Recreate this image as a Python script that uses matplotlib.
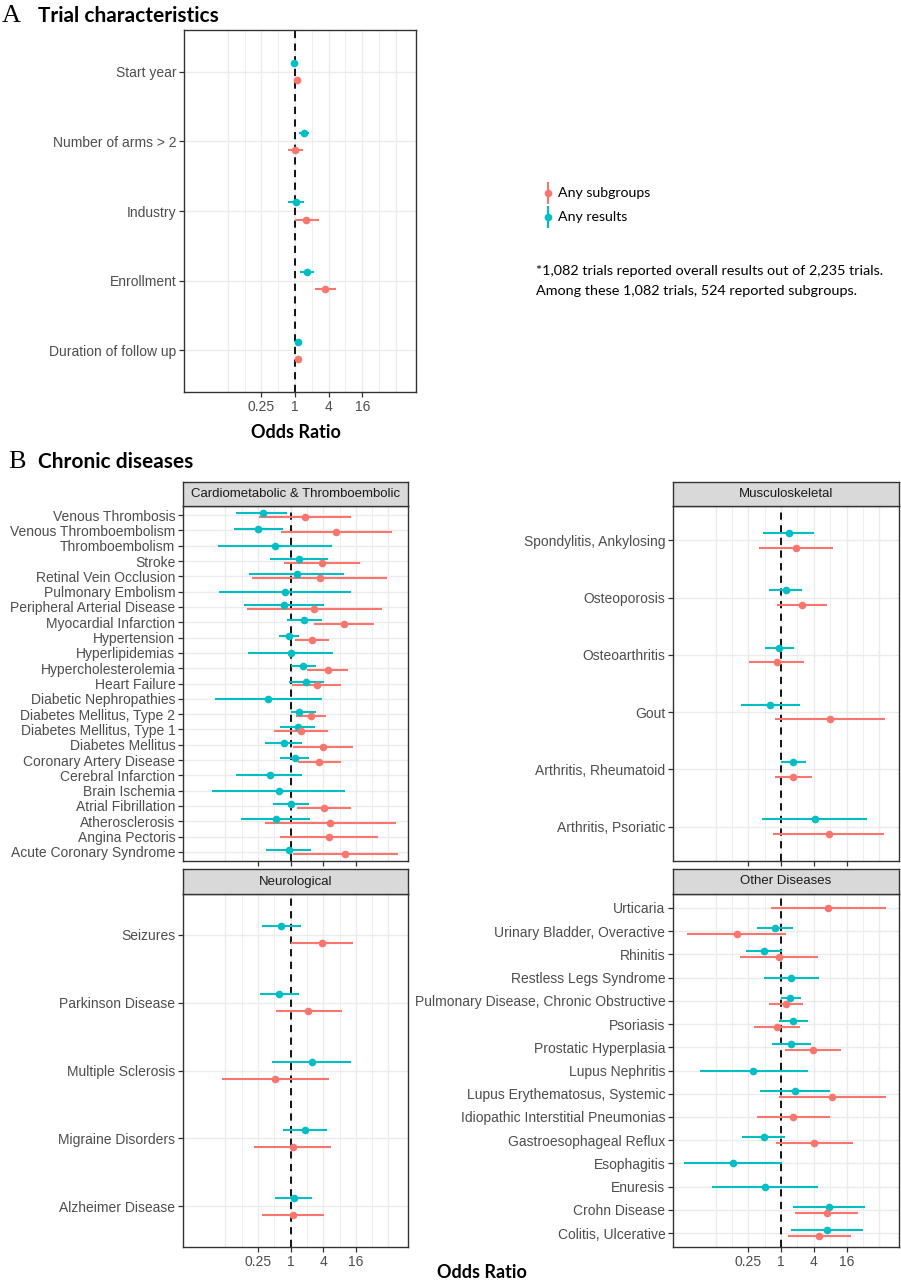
import numpy as np
import matplotlib.pyplot as plt

RED = "#F8766D"
TEAL = "#00BFC4"
NA = np.nan

# ---------------- A: trial characteristics (top to bottom) ----------------
trial_names = ["Start year", "Number of arms > 2", "Industry", "Enrollment",
               "Duration of follow up"]
trial_res = [0.97, 1.43, 1.03, 1.65, 1.12]
trial_res_lo = [0.95, 1.20, 0.75, 1.25, 1.08]
trial_res_hi = [1.00, 1.77, 1.45, 2.20, 1.16]
trial_sub = [1.10, 1.00, 1.58, 3.50, 1.15]
trial_sub_lo = [1.07, 0.75, 1.00, 2.27, 1.11]
trial_sub_hi = [1.13, 1.37, 2.70, 5.50, 1.19]

# ---------------- B: cardiometabolic & thromboembolic ----------------
cardio_names = ["Venous Thrombosis", "Venous Thromboembolism", "Thromboembolism",
                "Stroke", "Retinal Vein Occlusion", "Pulmonary Embolism",
                "Peripheral Arterial Disease", "Myocardial Infarction", "Hypertension",
                "Hyperlipidemias", "Hypercholesterolemia", "Heart Failure",
                "Diabetic Nephropathies", "Diabetes Mellitus, Type 2",
                "Diabetes Mellitus, Type 1", "Diabetes Mellitus", "Coronary Artery Disease",
                "Cerebral Infarction", "Brain Ischemia", "Atrial Fibrillation",
                "Atherosclerosis", "Angina Pectoris", "Acute Coronary Syndrome"]
cardio_res = [0.31, 0.25, 0.51, 1.44, 1.29, 0.80, 0.74, 1.74, 0.92, 1.00, 1.66, 1.92,
              0.39, 1.40, 1.35, 0.75, 1.18, 0.41, 0.61, 1.01, 0.54, NA, 0.92]
cardio_res_lo = [0.10, 0.09, 0.045, 0.42, 0.17, 0.048, 0.14, 0.85, 0.60, 0.16, 1.00, 0.92,
                 0.040, 1.00, 0.64, 0.34, 0.64, 0.10, 0.036, 0.48, 0.12, NA, 0.35]
cardio_res_hi = [0.87, 0.71, 5.86, 4.82, 9.65, 13.3, 4.06, 3.78, 1.42, 6.10, 2.97, 4.06,
                 3.84, 2.97, 2.85, 1.64, 2.17, 1.64, 10.3, 2.17, 2.30, NA, 2.36]
cardio_sub = [1.84, 6.96, NA, 3.78, 3.43, NA, 2.73, 9.78, 2.45, NA, 4.89, 3.01,
              NA, 2.41, 1.57, 3.94, 3.39, NA, NA, 4.11, 5.39, 5.10, 10.3]
cardio_sub_lo = [0.26, 0.66, NA, 0.74, 0.19, NA, 0.155, 2.73, 1.21, NA, 2.03, 1.07,
                 NA, 1.26, 0.50, 1.12, 1.35, NA, NA, 1.33, 0.33, 0.64, 1.09]
cardio_sub_hi = [13.1, 73.5, NA, 19.3, 61.4, NA, 48.2, 35.3, 5.10, NA, 11.7, 8.57,
                 NA, 4.59, 4.96, 13.9, 8.69, NA, NA, 13.1, 87.4, 41.4, 96.3]

# ---------------- B: musculoskeletal ----------------
musc_names = ["Spondylitis, Ankylosing", "Osteoporosis", "Osteoarthritis", "Gout",
              "Arthritis, Rheumatoid", "Arthritis, Psoriatic"]
musc_res = [1.38, 1.21, 0.93, 0.63, 1.68, 4.17]
musc_res_lo = [0.47, 0.59, 0.50, 0.18, 1.01, 0.45]
musc_res_hi = [4.00, 2.45, 1.75, 2.25, 2.91, 37.5]
musc_sub = [1.85, 2.41, 0.85, 7.84, 1.64, 7.52]
musc_sub_lo = [0.39, 0.84, 0.26, 0.77, 0.76, 0.72]
musc_sub_hi = [8.88, 7.01, 2.69, 81.0, 3.63, 78.8]

# ---------------- B: neurological ----------------
neuro_names = ["Seizures", "Parkinson Disease", "Multiple Sclerosis",
               "Migraine Disorders", "Alzheimer Disease"]
neuro_res = [0.67, 0.62, 2.45, 1.85, 1.15]
neuro_res_lo = [0.295, 0.275, 0.46, 0.73, 0.52]
neuro_res_hi = [1.57, 1.42, 13.2, 4.72, 2.51]
neuro_sub = [3.78, 2.13, 0.52, 1.10, 1.12]
neuro_sub_lo = [1.03, 0.54, 0.054, 0.215, 0.30]
neuro_sub_hi = [14.3, 8.75, 5.13, 5.66, 4.11]

# ---------------- B: other diseases ----------------
other_names = ["Urticaria", "Urinary Bladder, Overactive", "Rhinitis",
               "Restless Legs Syndrome", "Pulmonary Disease, Chronic Obstructive",
               "Psoriasis", "Prostatic Hyperplasia", "Lupus Nephritis",
               "Lupus Erythematosus, Systemic", "Idiopathic Interstitial Pneumonias",
               "Gastroesophageal Reflux", "Esophagitis", "Enuresis", "Crohn Disease",
               "Colitis, Ulcerative"]
other_res = [NA, 0.77, 0.48, 1.55, 1.46, 1.66, 1.55, 0.31, 1.78, NA, 0.48, 0.13, 0.50,
             7.62, 7.11]
other_res_lo = [NA, 0.36, 0.224, 0.48, 1.00, 0.91, 0.68, 0.032, 0.41, NA, 0.195, 0.0163,
                0.053, 1.68, 1.55]
other_res_hi = [NA, 1.66, 1.04, 4.99, 2.28, 3.07, 3.48, 3.12, 7.84, NA, 1.20, 1.03, 4.86,
                35.0, 32.7]
other_sub = [7.31, 0.153, 0.91, NA, 1.21, 0.85, 3.84, NA, 8.63, 1.68, 4.11, NA, NA,
             6.92, 4.99]
other_sub_lo = [0.64, 0.0187, 0.177, NA, 0.59, 0.32, 1.18, NA, 0.91, 0.356, 0.82, NA, NA,
                1.80, 1.34]
other_sub_hi = [85.6, 1.25, 4.72, NA, 2.51, 2.19, 12.6, NA, 83.3, 7.94, 20.8, NA, NA,
                26.2, 18.9]

# =========================
# STYLE
# =========================
plt.rcParams["font.family"] = ["Liberation Sans", "DejaVu Sans"]
HEAD = ["Lato", "DejaVu Sans"]
W, H = 901, 1280


def box(x0, y0, x1, y1):
    # pixel box (top-left origin) -> figure fraction rect
    return [x0 / W, 1 - y1 / H, (x1 - x0) / W, (y1 - y0) / H]


def forest(ax, names, res, res_lo, res_hi, sub, sub_lo, sub_hi, show_x):
    res, res_lo, res_hi = map(np.asarray, (res, res_lo, res_hi))
    sub, sub_lo, sub_hi = map(np.asarray, (sub, sub_lo, sub_hi))
    n = len(names)
    ypos = np.arange(n, 0, -1).astype(float)
    both = ~np.isnan(res) & ~np.isnan(sub)

    for k in range(-4, 7):
        ax.axvline(2.0 ** k, color="#EBEBEB", lw=1.0 if k % 2 == 0 else 0.6, zorder=0)
    for y in ypos:
        ax.axhline(y, color="#EBEBEB", lw=1.0, zorder=0)
    ax.axvline(1, color="black", lw=1.3, ls=(0, (4, 3)), zorder=2)

    for val, lo, hi, col, sgn in [(res, res_lo, res_hi, TEAL, 1),
                                  (sub, sub_lo, sub_hi, RED, -1)]:
        yy = ypos + np.where(both, sgn * 0.125, 0.0)
        m = ~np.isnan(val)
        ax.hlines(yy[m], lo[m], hi[m], color=col, lw=1.5, zorder=3)
        ax.plot(val[m], yy[m], "o", color=col, ms=5.5, mec="none", zorder=4)

    ax.set_xscale("log", base=2)
    ax.set_xlim(2 ** -6.6, 2 ** 7.2)
    ax.set_ylim(0.4, n + 0.6)
    ax.set_yticks(ypos)
    ax.set_yticklabels(names, fontsize=10, color="#4D4D4D")
    ax.set_xticks([0.25, 1, 4, 16])
    ax.minorticks_off()
    if show_x:
        ax.set_xticklabels(["0.25", "1", "4", "16"], fontsize=10, color="#4D4D4D")
    else:
        ax.set_xticklabels([])
        ax.tick_params(axis="x", length=0)
    ax.tick_params(length=3.5, width=0.9, color="#333333", pad=2)
    for s in ax.spines.values():
        s.set_color("#333333")
        s.set_linewidth(1.0)


def strip(rect, label):
    sax = fig.add_axes(rect)
    sax.set_facecolor("#D9D9D9")
    sax.set_xticks([])
    sax.set_yticks([])
    for s in sax.spines.values():
        s.set_color("#333333")
        s.set_linewidth(1.0)
    sax.text(0.5, 0.5, label, ha="center", va="center", fontsize=9.5, color="#1A1A1A",
             transform=sax.transAxes)


fig = plt.figure(figsize=(W / 100, H / 100), dpi=100)

# =========================
# A. TRIAL CHARACTERISTICS
# =========================
axA = fig.add_axes(box(184, 30, 416, 392))
forest(axA, trial_names, trial_res, trial_res_lo, trial_res_hi,
       trial_sub, trial_sub_lo, trial_sub_hi, True)
fig.text(2 / W, 1 - 16 / H, "A", family="Liberation Serif", fontsize=19, va="center")
fig.text(38 / W, 1 - 16 / H, "Trial characteristics", family=HEAD, weight="bold",
         fontsize=15, va="center")
fig.text(296 / W, 1 - 433 / H, "Odds Ratio", family=HEAD, weight="bold",
         fontsize=13, ha="center", va="center")

# legend
for yk, col, lab in [(193, RED, "Any subgroups"), (217, TEAL, "Any results")]:
    fig.add_artist(plt.Line2D([548 / W, 548 / W], [1 - (yk - 10) / H, 1 - (yk + 10) / H],
                              color=col, lw=1.5))
    fig.add_artist(plt.Line2D([548 / W], [1 - yk / H], marker="o", color=col, ms=5.5,
                              mec="none"))
    fig.text(558 / W, 1 - yk / H, lab, family=HEAD, fontsize=10.2, va="center")
fig.text(536 / W, 1 - 271 / H,
         "*1,082 trials reported overall results out of 2,235 trials.",
         family=HEAD, fontsize=10.4, va="center")
fig.text(536 / W, 1 - 291 / H, "Among these 1,082 trials, 524 reported subgroups.",
         family=HEAD, fontsize=10.4, va="center")

# =========================
# B. CHRONIC DISEASES
# =========================
fig.text(8 / W, 1 - 462 / H, "B", family="Liberation Serif", fontsize=19, va="center")
fig.text(38 / W, 1 - 462 / H, "Chronic diseases", family=HEAD, weight="bold",
         fontsize=15, va="center")

ax1 = fig.add_axes(box(183, 506, 408, 861))
forest(ax1, cardio_names, cardio_res, cardio_res_lo, cardio_res_hi,
       cardio_sub, cardio_sub_lo, cardio_sub_hi, False)
strip(box(183, 482, 408, 506), "Cardiometabolic & Thromboembolic")

ax2 = fig.add_axes(box(673, 506, 899, 861))
forest(ax2, musc_names, musc_res, musc_res_lo, musc_res_hi,
       musc_sub, musc_sub_lo, musc_sub_hi, False)
strip(box(673, 482, 899, 506), "Musculoskeletal")

ax3 = fig.add_axes(box(183, 894, 408, 1247))
forest(ax3, neuro_names, neuro_res, neuro_res_lo, neuro_res_hi,
       neuro_sub, neuro_sub_lo, neuro_sub_hi, True)
strip(box(183, 869, 408, 894), "Neurological")

ax4 = fig.add_axes(box(673, 894, 899, 1247))
forest(ax4, other_names, other_res, other_res_lo, other_res_hi,
       other_sub, other_sub_lo, other_sub_hi, True)
strip(box(673, 869, 899, 894), "Other Diseases")

fig.text(482 / W, 1 - 1272 / H, "Odds Ratio", family=HEAD, weight="bold",
         fontsize=13, ha="center", va="center")

fig.savefig("out.png", dpi=100)
